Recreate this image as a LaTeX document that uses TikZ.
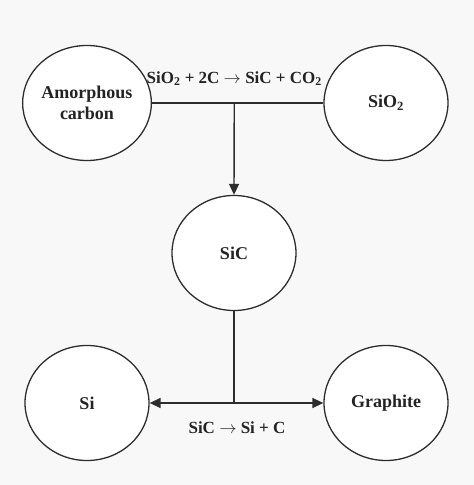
\documentclass[tikz,border=0pt]{standalone}
\usepackage{fontspec}
\setmainfont{Liberation Serif}
\usepackage{tikz}
\usetikzlibrary{arrows.meta, positioning, shapes.geometric, calc}
\definecolor{bgGray}{RGB}{248,248,248}
\definecolor{lineDark}{RGB}{45,45,45}
\definecolor{textDark}{RGB}{35,35,35}
\tikzset{
    phase/.style={ellipse, draw=lineDark, fill=white, line width=1.3pt,
                  minimum width=124pt, minimum height=115pt, inner sep=0pt,
                  align=center, font=\fontsize{18}{21}\selectfont\bfseries, text=textDark},
    link/.style={line width=1.4pt, draw=lineDark},
    flow/.style={-{Triangle[length=11pt, width=10pt]}, line width=1.4pt, draw=lineDark},
    rxn/.style={font=\fontsize{17}{19}\selectfont\bfseries, text=textDark, inner sep=1pt}
}
\begin{document}
\begin{tikzpicture}[x=1pt, y=1pt]
    \fill[bgGray] (0,0) rectangle (474,485);
    \useasboundingbox (0,0) rectangle (474,485);

    % Reactants
    \node[phase] (amorph) at (87,382) {Amorphous\\carbon};
    \node[phase] (sio2) at (386,382) {SiO\textsubscript{2}};
    \coordinate (top) at ($(amorph.east)!0.48!(sio2.west)$);

    % Intermediate
    \node[phase] (sic) at (234,232) {SiC};
    \coordinate (bot) at (234,82);

    % Products
    \node[phase] (si) at (87,82) {Si};
    \node[phase] (graph) at (386,82) {Graphite};

    % Flows
    \draw[link] (amorph.east) -- (sio2.west);
    \draw[flow] (top) -- (sic.north);
    \node[rxn, above=16pt of top] (rxn1) {SiO\textsubscript{2} + 2C $\rightarrow$ SiC + CO\textsubscript{2}};
    \draw[link] (sic.south) -- (bot);
    \draw[flow] (bot) -- (si.east);
    \draw[flow] (bot) -- (graph.west);
    \node[rxn, below=18pt of bot, xshift=3pt] (rxn2) {SiC $\rightarrow$ Si + C};
\end{tikzpicture}
\end{document}
